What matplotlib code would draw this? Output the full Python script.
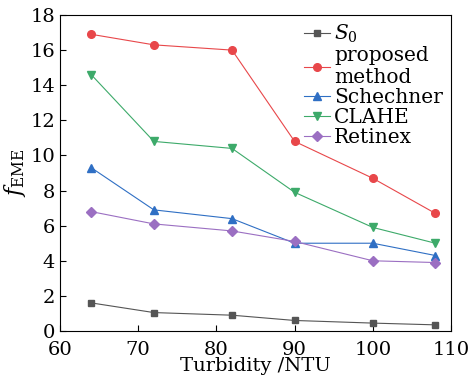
import matplotlib
matplotlib.use("Agg")
import matplotlib.pyplot as plt

plt.rcParams["font.family"] = "DejaVu Serif"
plt.rcParams["mathtext.fontset"] = "dejavuserif"

turbidity = [64, 72, 82, 90, 100, 108]
s0 = [1.6, 1.05, 0.9, 0.6, 0.45, 0.35]
proposed = [16.9, 16.3, 16.0, 10.8, 8.7, 6.7]
schechner = [9.3, 6.9, 6.4, 5.0, 5.0, 4.3]
clahe = [14.6, 10.8, 10.4, 7.9, 5.9, 5.0]
retinex = [6.8, 6.1, 5.7, 5.1, 4.0, 3.9]

fig = plt.figure(figsize=(4.69, 3.79), dpi=100)
ax = fig.add_axes([60 / 469, 1 - 331 / 379, 391 / 469, 316 / 379])

ax.plot(turbidity, s0, color="#555555", marker="s", ms=5, lw=0.8, label=r"$S_0$")
ax.plot(turbidity, proposed, color="#e8474a", marker="o", ms=5.5, lw=0.8, label="proposed\nmethod")
ax.plot(turbidity, schechner, color="#2f6fc4", marker="^", ms=6, lw=0.8, label="Schechner")
ax.plot(turbidity, clahe, color="#3daa6a", marker="v", ms=6, lw=0.8, label="CLAHE")
ax.plot(turbidity, retinex, color="#9b6fc2", marker="D", ms=5, lw=0.8, label="Retinex")

ax.set_xlim(60, 110)
ax.set_ylim(0, 18)
ax.set_xticks([60, 70, 80, 90, 100, 110])
ax.set_yticks(range(0, 19, 2))
ax.tick_params(direction="in", labelsize=14, top=False, right=False, length=4)
ax.tick_params(axis="x", pad=7)
ax.set_xlabel("Turbidity /NTU", fontsize=14, labelpad=-1)
ax.set_ylabel(r"$f_{\rm EME}$", fontsize=16, labelpad=2)

ax.legend(loc="upper right", frameon=False, fontsize=14.5, handlelength=1.3,
          handletextpad=0.2, labelspacing=0.05, borderaxespad=0.0)

fig.savefig("out.png", dpi=100)
